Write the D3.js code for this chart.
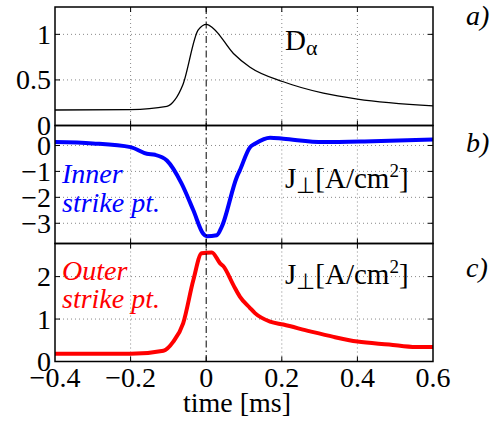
<!DOCTYPE html>
<html><head><meta charset="utf-8"><script src="https://cdn.jsdelivr.net/npm/d3@7"></script></head>
<body style="margin:0">
<svg width="497" height="421"></svg>
<script>
// time axis
const xTicks = [-0.4, -0.2, 0, 0.2, 0.4, 0.6];

// panel a: D-alpha
const tA = [-0.4, -0.2, -0.104, -0.083, -0.062, -0.021, 0.001, 0.019, 0.072, 0.116, 0.204, 0.31, 0.40, 0.6];
const dAlpha = [0.17, 0.175, 0.21, 0.28, 0.445, 1.05, 1.11, 1.065, 0.79, 0.64, 0.48, 0.355, 0.29, 0.215];
const ticksA = [0, 0.5, 1];

// panel b: inner strike point J
const tB = [-0.4, -0.3, -0.2, -0.157, -0.135, -0.104, -0.065, -0.034, -0.008, 0.001, 0.028, 0.041, 0.081, 0.089, 0.116, 0.129, 0.169, 0.204, 0.31, 0.44, 0.6];
const jInner = [0.13, 0.08, -0.065, -0.32, -0.36, -0.58, -1.47, -2.5, -3.4, -3.5, -3.46, -3.14, -1.22, -0.96, -0.065, 0.065, 0.3, 0.26, 0.13, 0.165, 0.23];
const ticksB = [-3, -2, -1, 0];

// panel c: outer strike point J
const tC = [-0.4, -0.2, -0.113, -0.087, -0.061, -0.034, -0.012, 0.015, 0.037, 0.045, 0.072, 0.089, 0.116, 0.129, 0.169, 0.204, 0.275, 0.337, 0.40, 0.484, 0.555, 0.6];
const jOuter = [0.185, 0.18, 0.255, 0.47, 0.9, 1.92, 2.55, 2.57, 2.31, 2.25, 1.8, 1.53, 1.26, 1.14, 0.94, 0.87, 0.71, 0.58, 0.47, 0.40, 0.34, 0.34];
const ticksC = [0, 1, 2];

const svg = d3.select("svg");
const x = d3.scaleLinear().domain([-0.4, 0.6]).range([55, 433]);
const fs = 28;

// every text gets the serif font set on itself
function txt(parent) {
  return parent.append("text").attr("font-family", "Liberation Serif");
}

const panels = [
  { t: tA, v: dAlpha, ticks: ticksA, dom: [0, 1.3], rng: [125.5, 7], color: "#000", width: 1.3, tag: "a)" },
  { t: tB, v: jInner, ticks: ticksB, dom: [-3.78, 0.77], rng: [243.5, 125.5], color: "#0000ff", width: 4, tag: "b)" },
  { t: tC, v: jOuter, ticks: ticksC, dom: [0, 2.78], rng: [361.5, 243.5], color: "#ff0000", width: 4, tag: "c)" }
];

const fmt = d => (d < 0 ? "\u2212" : "") + String(Math.abs(d));

panels.forEach((p, i) => {
  const y = d3.scaleLinear().domain(p.dom).range(p.rng);
  const g = svg.append("g");

  // grid
  g.selectAll(".gx").data(xTicks.filter(d => d !== 0 && d > -0.4 && d < 0.6)).join("line")
    .attr("x1", d => x(d)).attr("x2", d => x(d))
    .attr("y1", p.rng[1]).attr("y2", p.rng[0])
    .attr("stroke", "#888").attr("stroke-width", 1).attr("stroke-dasharray", "1,3");
  g.selectAll(".gy").data(p.ticks.filter(d => y(d) < p.rng[0] - 1 && y(d) > p.rng[1] + 1)).join("line")
    .attr("x1", x.range()[0]).attr("x2", x.range()[1])
    .attr("y1", d => y(d)).attr("y2", d => y(d))
    .attr("stroke", "#888").attr("stroke-width", 1).attr("stroke-dasharray", "1,3");

  // tick marks (inward)
  const xt = xTicks.filter(d => d > -0.4 && d < 0.6);
  g.selectAll(".tb").data(xt).join("line")
    .attr("x1", d => x(d)).attr("x2", d => x(d))
    .attr("y1", p.rng[0]).attr("y2", p.rng[0] - 5).attr("stroke", "#000");
  g.selectAll(".tt").data(xt).join("line")
    .attr("x1", d => x(d)).attr("x2", d => x(d))
    .attr("y1", p.rng[1]).attr("y2", p.rng[1] + 5).attr("stroke", "#000");
  g.selectAll(".tl").data(p.ticks).join("line")
    .attr("x1", x.range()[0]).attr("x2", x.range()[0] + 5)
    .attr("y1", d => y(d)).attr("y2", d => y(d)).attr("stroke", "#000");
  g.selectAll(".tr").data(p.ticks).join("line")
    .attr("x1", x.range()[1]).attr("x2", x.range()[1] - 5)
    .attr("y1", d => y(d)).attr("y2", d => y(d)).attr("stroke", "#000");

  // y tick labels
  p.ticks.forEach(d => {
    txt(g).attr("x", 51).attr("y", y(d)).attr("dy", "0.34em")
      .attr("text-anchor", "end").attr("font-size", fs).text(fmt(d));
  });

  // data line
  g.append("path")
    .datum(p.t.map((t, k) => [t, p.v[k]]))
    .attr("fill", "none").attr("stroke", p.color).attr("stroke-width", p.width)
    .attr("stroke-linejoin", "round")
    .attr("d", d3.line().x(d => x(d[0])).y(d => y(d[1])).curve(d3.curveMonotoneX));

  // frame
  g.append("rect")
    .attr("x", x.range()[0]).attr("y", p.rng[1])
    .attr("width", x.range()[1] - x.range()[0]).attr("height", p.rng[0] - p.rng[1])
    .attr("fill", "none").attr("stroke", "#000").attr("stroke-width", 1.5);

  // panel tag
  txt(svg).attr("x", 466).attr("y", [25, 152, 277][i])
    .attr("font-size", fs).attr("font-style", "italic").text(p.tag);
});

// dash-dot line at t = 0
svg.append("line")
  .attr("x1", x(0)).attr("x2", x(0))
  .attr("y1", 7).attr("y2", 361.5)
  .attr("stroke", "#000").attr("stroke-width", 1)
  .attr("stroke-dasharray", "7,3,1.5,3");

// x tick labels
xTicks.forEach(d => {
  txt(svg).attr("x", x(d)).attr("y", 387)
    .attr("text-anchor", "middle").attr("font-size", fs).text(fmt(d));
});

txt(svg).attr("x", 237).attr("y", 412)
  .attr("text-anchor", "middle").attr("font-size", fs).text("time [ms]");

// panel annotations
const da = txt(svg).attr("x", 285).attr("y", 50).attr("font-size", 29);
da.append("tspan").text("D");
da.append("tspan").attr("font-size", 22).attr("dy", 5).text("\u03b1");

[188, 284].forEach(yy => {
  const jt = txt(svg).attr("x", 285).attr("y", yy).attr("font-size", 29);
  jt.append("tspan").text("J");
  jt.append("tspan").attr("font-size", 22).attr("dy", 5).text("\u22a5");
  jt.append("tspan").attr("dy", -5).text("[A/cm");
  jt.append("tspan").attr("font-size", 19).attr("dy", -11).text("2");
  jt.append("tspan").attr("dy", 11).text("]");
});

const inner = txt(svg).attr("fill", "#0000ff").attr("font-size", 28).attr("font-style", "italic");
inner.append("tspan").attr("x", 62).attr("y", 183).text("Inner");
inner.append("tspan").attr("x", 62).attr("y", 212).text("strike pt.");

const outer = txt(svg).attr("fill", "#ff0000").attr("font-size", 28).attr("font-style", "italic");
outer.append("tspan").attr("x", 62).attr("y", 280).text("Outer");
outer.append("tspan").attr("x", 62).attr("y", 308).text("strike pt.");
</script>
</body></html>
